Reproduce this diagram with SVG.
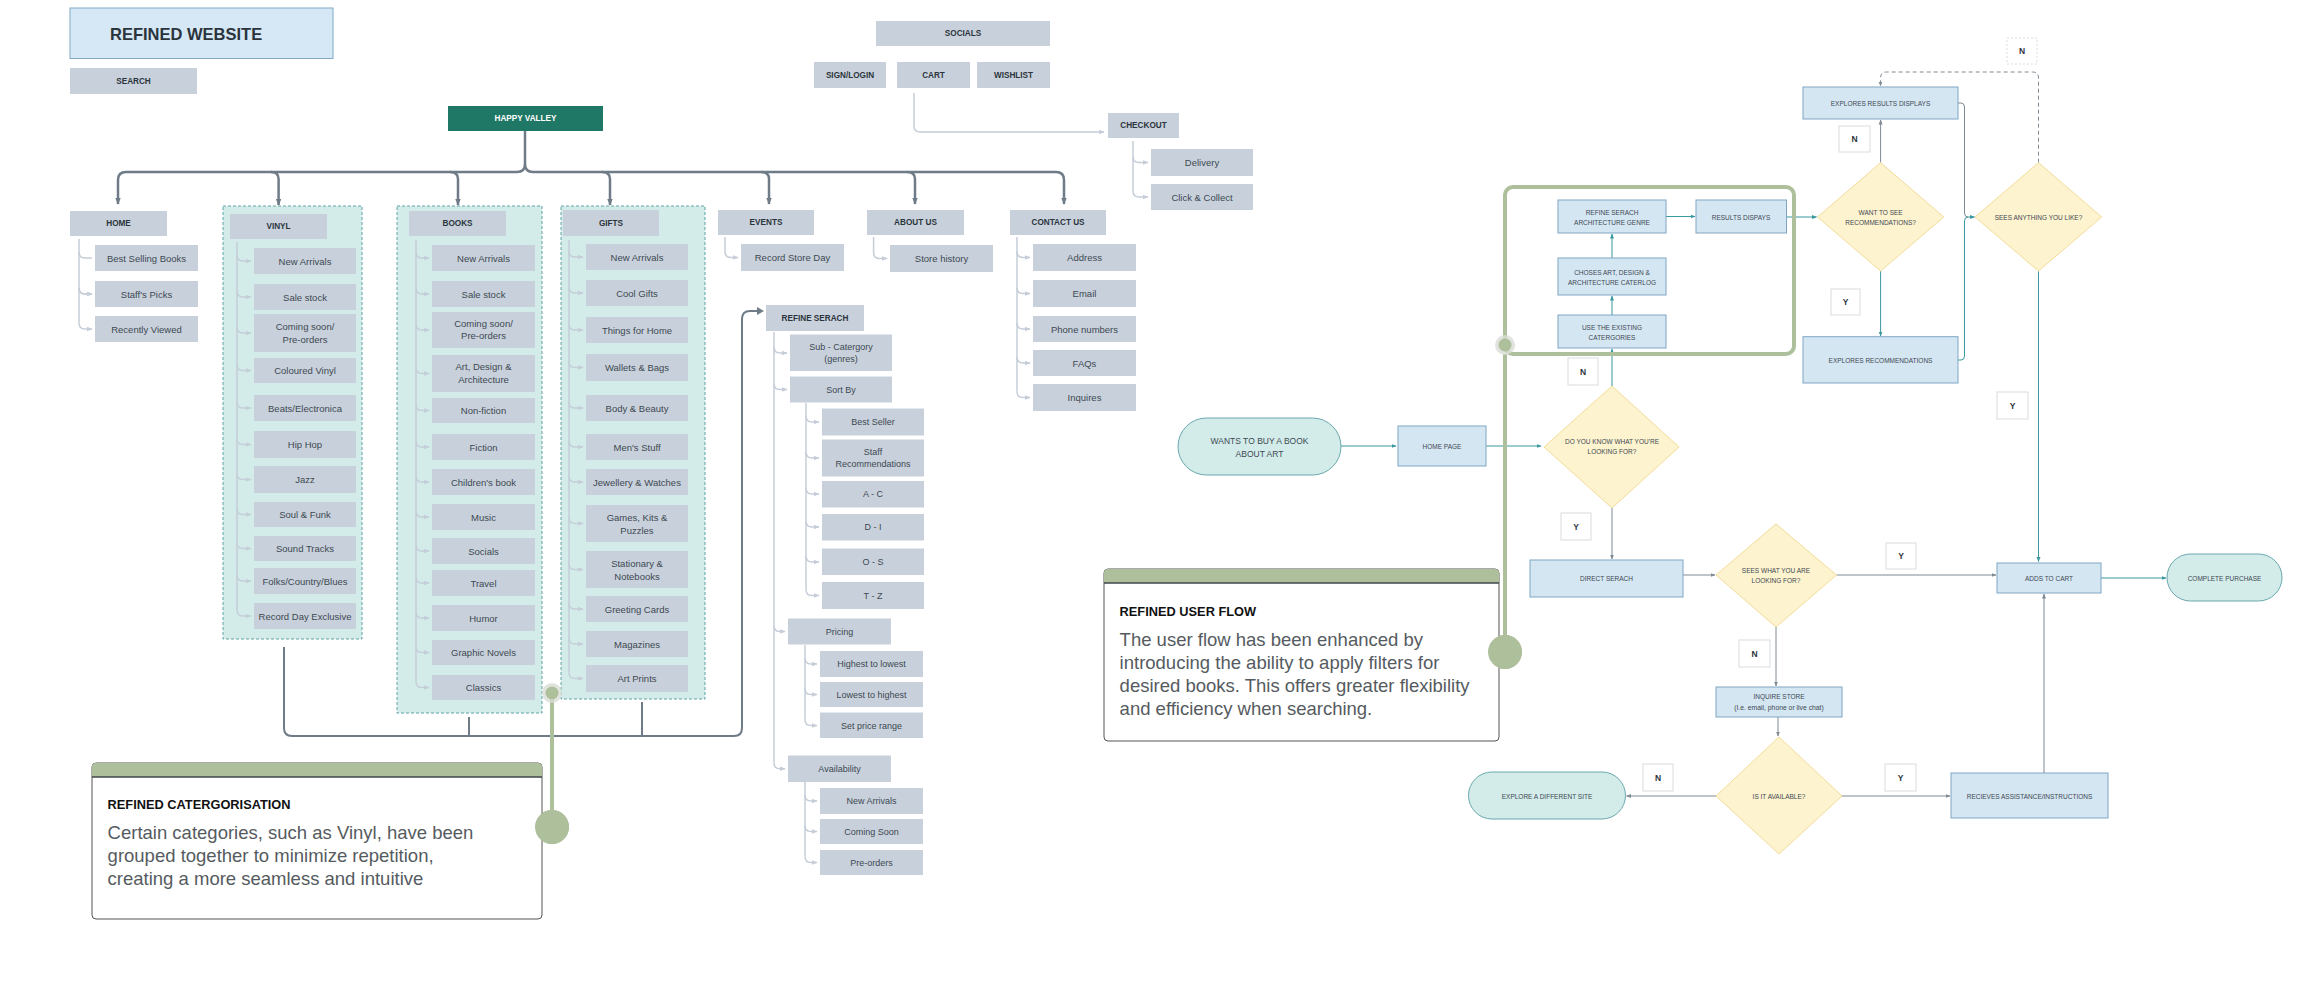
<svg xmlns="http://www.w3.org/2000/svg" width="2308" height="984" viewBox="0 0 2308 984">
<defs>
<style>
text{font-family:"Liberation Sans",Arial,sans-serif}
.b{fill:#c8d1db}
.t{font-size:9.5px;fill:#3d4852;text-anchor:middle;dominant-baseline:central}
.s{font-size:9px}
.h{font-size:8.2px;font-weight:bold;fill:#2b343d;text-anchor:middle;dominant-baseline:central}
.c{fill:#d3ecea;stroke:#5fa3a5;stroke-width:1;stroke-dasharray:3 2}
.tr{fill:none;stroke:#c5ced8;stroke-width:1.5}
.br{fill:none;stroke:#c5ced8;stroke-width:1.5;marker-end:url(#ml)}
.bus{fill:none;stroke:#6f7c87;stroke-width:2.5;marker-end:url(#mb)}
.bk{fill:none;stroke:#6f7c87;stroke-width:2}
.p{fill:#d5e6f3;stroke:#7ea6c4;stroke-width:1}
.d{fill:#fdf3cf;stroke:#f3dc98;stroke-width:1}
.pl{fill:#d3ecea;stroke:#6aa8ad;stroke-width:1}
.f{font-size:6.5px;fill:#3d4852;text-anchor:middle;dominant-baseline:central}
.lb{fill:#fff;stroke:#d8dcdf;stroke-width:1}
.lt{font-size:8.5px;font-weight:bold;fill:#2b343d;text-anchor:middle;dominant-baseline:central}
.te{fill:none;stroke:#3a98a0;stroke-width:1;marker-end:url(#mt)}
.gr{fill:none;stroke:#7f8a93;stroke-width:1;marker-end:url(#mg)}
.gn{fill:none;stroke:#aebf9c;stroke-width:4}
.ct{font-size:18.5px;fill:#555b60}
.cT{font-size:12.8px;font-weight:bold;fill:#111}
</style>
<marker id="mb" viewBox="0 0 10 10" refX="9" refY="5" markerWidth="7" markerHeight="7" markerUnits="userSpaceOnUse" orient="auto"><path d="M0,1 L10,5 L0,9 z" fill="#6f7c87"/></marker>
<marker id="ml" viewBox="0 0 10 10" refX="9" refY="5" markerWidth="6" markerHeight="6" markerUnits="userSpaceOnUse" orient="auto"><path d="M0,1 L10,5 L0,9 z" fill="#c5ced8"/></marker>
<marker id="mt" viewBox="0 0 10 10" refX="9" refY="5" markerWidth="5" markerHeight="5" markerUnits="userSpaceOnUse" orient="auto"><path d="M0,1 L10,5 L0,9 z" fill="#3a98a0"/></marker>
<marker id="mg" viewBox="0 0 10 10" refX="9" refY="5" markerWidth="5" markerHeight="5" markerUnits="userSpaceOnUse" orient="auto"><path d="M0,1 L10,5 L0,9 z" fill="#7f8a93"/></marker>
</defs>
<rect width="2308" height="984" fill="#fff"/>

<!-- containers -->
<g id="containers">
<rect class="c" x="223" y="206" width="139" height="433"/>
<rect class="c" x="397" y="206" width="145" height="507"/>
<rect class="c" x="561" y="206" width="144" height="493"/>
</g>

<!-- connectors -->
<g id="connectors">
<path class="bus" d="M525,131 V164 Q525,172 517,172 H126 Q118,172 118,180 V204"/>
<path class="bus" d="M525,164 Q525,172 533,172 H1056 Q1064,172 1064,180 V204"/>
<path class="bus" d="M271,172 Q278.6,172 278.6,179 V205"/>
<path class="bus" d="M450,172 Q458,172 458,179 V205"/>
<path class="bus" d="M602,172 Q610,172 610,179 V205"/>
<path class="bus" d="M761,172 Q769,172 769,179 V204"/>
<path class="bus" d="M907,172 Q915,172 915,179 V204"/>
<path class="bk" d="M284,647 V728 Q284,736 292,736 H734 Q742,736 742,728 V319 Q742,311 750,311 H758"/>
<path d="M757,307 L764,311 L757,315 z" fill="#6f7c87"/>
<path class="bk" d="M469,717 V736 M642,702 V736"/>
<path class="br" d="M914,93 V126 Q914,132 920,132 H1104"/>
<!-- home -->
<path class="tr" d="M79,239 V323"/>
<path class="br" d="M79,252 Q79,258 85,258 H92 M79,288 Q79,294 85,294 H92"/>
<path class="br" d="M79,288 Q79,294 85,294 H92"/>
<path class="br" d="M79,323 Q79,329 85,329 H92"/>
<!-- vinyl -->
<path class="tr" d="M237,242 V610"/>
<path class="br" d="M237,255 Q237,261 243,261 H251"/>
<path class="br" d="M237,291 Q237,297 243,297 H251"/>
<path class="br" d="M237,327 Q237,333 243,333 H251"/>
<path class="br" d="M237,364.5 Q237,370.5 243,370.5 H251"/>
<path class="br" d="M237,402 Q237,408 243,408 H251"/>
<path class="br" d="M237,438.5 Q237,444.5 243,444.5 H251"/>
<path class="br" d="M237,473.5 Q237,479.5 243,479.5 H251"/>
<path class="br" d="M237,508.5 Q237,514.5 243,514.5 H251"/>
<path class="br" d="M237,542.5 Q237,548.5 243,548.5 H251"/>
<path class="br" d="M237,575 Q237,581 243,581 H251"/>
<path class="br" d="M237,610 Q237,616 243,616 H251"/>
<!-- books -->
<path class="tr" d="M416,240 V681.5"/>
<path class="br" d="M416,252 Q416,258 422,258 H429"/>
<path class="br" d="M416,288 Q416,294 422,294 H429"/>
<path class="br" d="M416,324 Q416,330 422,330 H429"/>
<path class="br" d="M416,367.5 Q416,373.5 422,373.5 H429"/>
<path class="br" d="M416,404.5 Q416,410.5 422,410.5 H429"/>
<path class="br" d="M416,441 Q416,447 422,447 H429"/>
<path class="br" d="M416,476 Q416,482 422,482 H429"/>
<path class="br" d="M416,511 Q416,517 422,517 H429"/>
<path class="br" d="M416,545 Q416,551 422,551 H429"/>
<path class="br" d="M416,577 Q416,583 422,583 H429"/>
<path class="br" d="M416,612 Q416,618 422,618 H429"/>
<path class="br" d="M416,646.5 Q416,652.5 422,652.5 H429"/>
<path class="br" d="M416,681.5 Q416,687.5 422,687.5 H429"/>
<!-- gifts -->
<path class="tr" d="M569,240 V672.5"/>
<path class="br" d="M569,251 Q569,257 575,257 H583"/>
<path class="br" d="M569,287 Q569,293 575,293 H583"/>
<path class="br" d="M569,324 Q569,330 575,330 H583"/>
<path class="br" d="M569,361.5 Q569,367.5 575,367.5 H583"/>
<path class="br" d="M569,402 Q569,408 575,408 H583"/>
<path class="br" d="M569,441 Q569,447 575,447 H583"/>
<path class="br" d="M569,476 Q569,482 575,482 H583"/>
<path class="br" d="M569,517.5 Q569,523.5 575,523.5 H583"/>
<path class="br" d="M569,563.5 Q569,569.5 575,569.5 H583"/>
<path class="br" d="M569,603 Q569,609 575,609 H583"/>
<path class="br" d="M569,638 Q569,644 575,644 H583"/>
<path class="br" d="M569,672.5 Q569,678.5 575,678.5 H583"/>
<!-- events / about -->
<path class="br" d="M725,237 V251.5 Q725,257.5 731,257.5 H738"/>
<path class="br" d="M873.6,237 V252.5 Q873.6,258.5 879.6,258.5 H887"/>
<!-- contact -->
<path class="tr" d="M1017,237 V391.5"/>
<path class="br" d="M1017,251.5 Q1017,257.5 1023,257.5 H1030"/>
<path class="br" d="M1017,287.5 Q1017,293.5 1023,293.5 H1030"/>
<path class="br" d="M1017,323 Q1017,329 1023,329 H1030"/>
<path class="br" d="M1017,357 Q1017,363 1023,363 H1030"/>
<path class="br" d="M1017,391.5 Q1017,397.5 1023,397.5 H1030"/>
<!-- checkout -->
<path class="tr" d="M1133,141 V191"/>
<path class="br" d="M1133,156.5 Q1133,162.5 1139,162.5 H1148"/>
<path class="br" d="M1133,191 Q1133,197 1139,197 H1148"/>
<!-- refine -->
<path class="tr" d="M774,332 V762.7"/>
<path class="br" d="M774,347 Q774,353 780,353 H787"/>
<path class="br" d="M774,383.5 Q774,389.5 780,389.5 H787"/>
<path class="br" d="M774,625.5 Q774,631.5 780,631.5 H785"/>
<path class="br" d="M774,762.7 Q774,768.7 780,768.7 H785"/>
<path class="tr" d="M806,403 V589.5"/>
<path class="br" d="M806,416 Q806,422 812,422 H819"/>
<path class="br" d="M806,452 Q806,458 812,458 H819"/>
<path class="br" d="M806,488 Q806,494 812,494 H819"/>
<path class="br" d="M806,521 Q806,527 812,527 H819"/>
<path class="br" d="M806,556 Q806,562 812,562 H819"/>
<path class="br" d="M806,589.5 Q806,595.5 812,595.5 H819"/>
<path class="tr" d="M805,645 V719.5"/>
<path class="br" d="M805,658 Q805,664 811,664 H817"/>
<path class="br" d="M805,688.5 Q805,694.5 811,694.5 H817"/>
<path class="br" d="M805,719.5 Q805,725.5 811,725.5 H817"/>
<path class="tr" d="M805,782 V856.5"/>
<path class="br" d="M805,795 Q805,801 811,801 H817"/>
<path class="br" d="M805,825.5 Q805,831.5 811,831.5 H817"/>
<path class="br" d="M805,856.5 Q805,862.5 811,862.5 H817"/>

<!-- flowchart -->
<path class="te" d="M1341,446 H1396"/>
<path class="te" d="M1486,446 H1541"/>
<path class="te" d="M1612,386 V349"/>
<path class="te" d="M1612,315 V296"/>
<path class="te" d="M1612,258 V234"/>
<path class="te" d="M1666,216.5 H1695"/>
<path class="te" d="M1786.5,217 H1816.5"/>
<path class="te" d="M1880.6,271 V336"/>
<path class="gr" d="M1880.6,162.7 V120"/>
<path fill="none" stroke="#7f8a93" stroke-width="1" d="M1958,103 H1961 Q1964.5,103 1964.5,107 V213 Q1964.5,217 1968,217"/>
<path class="te" d="M1958,360 H1961 Q1964.5,360 1964.5,356 V221 Q1964.5,217 1968,217 H1974.5"/>
<path class="gr" stroke-dasharray="4 3" d="M2038.5,162.7 V78 Q2038.5,72 2032.5,72 H1886.5 Q1880.5,72 1880.5,78 V86"/>
<path class="te" d="M2038.5,271 V561.5"/>
<path class="te" d="M2101,578 H2166"/>
<path class="gr" d="M1612,508 V559"/>
<path class="gr" d="M1683,575 H1715"/>
<path class="gr" d="M1836.5,575 H1996"/>
<path class="gr" d="M1776,627 V686"/>
<path class="gr" d="M1778,717 V736"/>
<path class="gr" d="M1716,796 H1626.5"/>
<path class="gr" d="M1842,796 H1950"/>
<path class="gr" d="M2044,773 V594"/>
</g>

<!-- callout green lines -->
<g id="callout-links">
<path class="gn" d="M552,693 V827"/>
<circle cx="552" cy="693" r="10" fill="#d9ddd6" opacity="0.8"/>
<circle cx="552" cy="693" r="6.5" fill="#aebf9c"/>
<circle cx="552" cy="827" r="17" fill="#aebf9c"/>
<rect class="gn" x="1505" y="187" width="289" height="167" rx="8"/>
<path class="gn" d="M1505,354 V652"/>
<circle cx="1505" cy="345" r="10" fill="#d9ddd6" opacity="0.8"/>
<circle cx="1505" cy="345" r="6.5" fill="#aebf9c"/>
<circle cx="1505" cy="652" r="17" fill="#aebf9c"/>
</g>

<!-- top -->
<g id="title"><rect x="70" y="8" width="263" height="50.5" fill="#d6e8f5" stroke="#7fa9c4" stroke-width="1"/><text x="110" y="40" font-size="16.5" font-weight="bold" fill="#2b343d">REFINED WEBSITE</text></g>
<g id="search"><rect class="b" x="70" y="68" width="127" height="26"/><text class="h" x="133.5" y="81">SEARCH</text></g>
<g id="happy-valley"><rect x="448" y="106" width="155" height="25" fill="#1f7866"/><text class="h" x="525.5" y="118.5" fill="#fff" style="fill:#fff">HAPPY VALLEY</text></g>
<g id="socials"><rect class="b" x="876" y="21" width="174" height="25"/><text class="h" x="963" y="33.5">SOCIALS</text></g>
<g id="signlogin"><rect class="b" x="814" y="62" width="72" height="26"/><text class="h" x="850" y="75">SIGN/LOGIN</text></g>
<g id="cart"><rect class="b" x="897" y="62" width="73" height="26"/><text class="h" x="933.5" y="75">CART</text></g>
<g id="wishlist"><rect class="b" x="977" y="62" width="73" height="26"/><text class="h" x="1013.5" y="75">WISHLIST</text></g>
<g id="checkout"><rect class="b" x="1108" y="113" width="71" height="25"/><text class="h" x="1143.5" y="125.5">CHECKOUT</text>
<rect class="b" x="1151" y="149" width="102" height="27"/><text class="t" x="1202" y="162.5">Delivery</text>
<rect class="b" x="1151" y="184" width="102" height="26"/><text class="t" x="1202" y="197">Click &amp; Collect</text></g>

<!-- home -->
<g id="home"><rect class="b" x="70" y="211" width="97" height="25"/><text class="h" x="118.5" y="223.5">HOME</text>
<rect class="b" x="95" y="245" width="103" height="26"/><text class="t" x="146.5" y="258">Best Selling Books</text>
<rect class="b" x="95" y="281" width="103" height="26"/><text class="t" x="146.5" y="294">Staff's Picks</text>
<rect class="b" x="95" y="316" width="103" height="26"/><text class="t" x="146.5" y="329">Recently Viewed</text></g>

<!-- vinyl -->
<g id="vinyl"><rect class="b" x="230" y="214" width="97" height="25"/><text class="h" x="278.5" y="226.5">VINYL</text>
<rect class="b" x="254" y="248" width="102" height="26"/><text class="t" x="305" y="261">New Arrivals</text>
<rect class="b" x="254" y="284" width="102" height="26"/><text class="t" x="305" y="297">Sale stock</text>
<rect class="b" x="254" y="314" width="102" height="38"/><text class="t" x="305" y="326.7">Coming soon/</text><text class="t" x="305" y="339">Pre-orders</text>
<rect class="b" x="254" y="358" width="102" height="25"/><text class="t" x="305" y="370.5">Coloured Vinyl</text>
<rect class="b" x="254" y="395" width="102" height="26"/><text class="t" x="305" y="408">Beats/Electronica</text>
<rect class="b" x="254" y="431" width="102" height="27"/><text class="t" x="305" y="444.5">Hip Hop</text>
<rect class="b" x="254" y="466" width="102" height="27"/><text class="t" x="305" y="479.5">Jazz</text>
<rect class="b" x="254" y="502" width="102" height="25"/><text class="t" x="305" y="514.5">Soul &amp; Funk</text>
<rect class="b" x="254" y="536" width="102" height="25"/><text class="t" x="305" y="548.5">Sound Tracks</text>
<rect class="b" x="254" y="568" width="102" height="26"/><text class="t" x="305" y="581">Folks/Country/Blues</text>
<rect class="b" x="254" y="603" width="102" height="26"/><text class="t" x="305" y="616">Record Day Exclusive</text></g>

<!-- books -->
<g id="books"><rect class="b" x="409" y="211" width="97" height="25"/><text class="h" x="457.5" y="223.5">BOOKS</text>
<rect class="b" x="432" y="245" width="103" height="26"/><text class="t" x="483.5" y="258">New Arrivals</text>
<rect class="b" x="432" y="281" width="103" height="26"/><text class="t" x="483.5" y="294">Sale stock</text>
<rect class="b" x="432" y="312" width="103" height="36"/><text class="t" x="483.5" y="323.3">Coming soon/</text><text class="t" x="483.5" y="335.7">Pre-orders</text>
<rect class="b" x="432" y="355" width="103" height="37"/><text class="t" x="483.5" y="366.7">Art, Design &amp;</text><text class="t" x="483.5" y="379">Architecture</text>
<rect class="b" x="432" y="398" width="103" height="25"/><text class="t" x="483.5" y="410.5">Non-fiction</text>
<rect class="b" x="432" y="434" width="103" height="26"/><text class="t" x="483.5" y="447">Fiction</text>
<rect class="b" x="432" y="469" width="103" height="26"/><text class="t" x="483.5" y="482">Children's book</text>
<rect class="b" x="432" y="504" width="103" height="26"/><text class="t" x="483.5" y="517">Music</text>
<rect class="b" x="432" y="538" width="103" height="26"/><text class="t" x="483.5" y="551">Socials</text>
<rect class="b" x="432" y="570" width="103" height="26"/><text class="t" x="483.5" y="583">Travel</text>
<rect class="b" x="432" y="605" width="103" height="26"/><text class="t" x="483.5" y="618">Humor</text>
<rect class="b" x="432" y="640" width="103" height="25"/><text class="t" x="483.5" y="652.5">Graphic Novels</text>
<rect class="b" x="432" y="675" width="103" height="25"/><text class="t" x="483.5" y="687.5">Classics</text></g>

<!-- gifts -->
<g id="gifts"><rect class="b" x="563" y="210" width="96" height="26"/><text class="h" x="611" y="223">GIFTS</text>
<rect class="b" x="586" y="244" width="102" height="26"/><text class="t" x="637" y="257">New Arrivals</text>
<rect class="b" x="586" y="280" width="102" height="26"/><text class="t" x="637" y="293">Cool Gifts</text>
<rect class="b" x="586" y="317" width="102" height="26"/><text class="t" x="637" y="330">Things for Home</text>
<rect class="b" x="586" y="354" width="102" height="27"/><text class="t" x="637" y="367.5">Wallets &amp; Bags</text>
<rect class="b" x="586" y="395" width="102" height="26"/><text class="t" x="637" y="408">Body &amp; Beauty</text>
<rect class="b" x="586" y="434" width="102" height="26"/><text class="t" x="637" y="447">Men's Stuff</text>
<rect class="b" x="586" y="469" width="102" height="26"/><text class="t" x="637" y="482">Jewellery &amp; Watches</text>
<rect class="b" x="586" y="505" width="102" height="37"/><text class="t" x="637" y="517.7">Games, Kits &amp;</text><text class="t" x="637" y="530">Puzzles</text>
<rect class="b" x="586" y="551" width="102" height="37"/><text class="t" x="637" y="563.7">Stationary &amp;</text><text class="t" x="637" y="576">Notebooks</text>
<rect class="b" x="586" y="596" width="102" height="26"/><text class="t" x="637" y="609">Greeting Cards</text>
<rect class="b" x="586" y="631" width="102" height="26"/><text class="t" x="637" y="644">Magazines</text>
<rect class="b" x="586" y="665" width="102" height="27"/><text class="t" x="637" y="678.5">Art Prints</text></g>

<!-- events / about / contact -->
<g id="events"><rect class="b" x="718" y="210" width="96" height="25"/><text class="h" x="766" y="222.5">EVENTS</text>
<rect class="b" x="741" y="244" width="103" height="27"/><text class="t" x="792.5" y="257.5">Record Store Day</text></g>
<g id="about"><rect class="b" x="867" y="210" width="97" height="25"/><text class="h" x="915.5" y="222.5">ABOUT US</text>
<rect class="b" x="890" y="245" width="103" height="27"/><text class="t" x="941.5" y="258.5">Store history</text></g>
<g id="contact"><rect class="b" x="1010" y="210" width="96" height="25"/><text class="h" x="1058" y="222.5">CONTACT US</text>
<rect class="b" x="1033" y="244" width="103" height="27"/><text class="t" x="1084.5" y="257.5">Address</text>
<rect class="b" x="1033" y="280" width="103" height="27"/><text class="t" x="1084.5" y="293.5">Email</text>
<rect class="b" x="1033" y="316" width="103" height="26"/><text class="t" x="1084.5" y="329">Phone numbers</text>
<rect class="b" x="1033" y="350" width="103" height="26"/><text class="t" x="1084.5" y="363">FAQs</text>
<rect class="b" x="1033" y="384" width="103" height="27"/><text class="t" x="1084.5" y="397.5">Inquires</text></g>

<!-- refine search -->
<g id="refine"><rect class="b" x="766" y="305" width="98" height="26"/><text class="h" x="815" y="318">REFINE SERACH</text>
<rect class="b" x="790" y="334.5" width="102" height="36.5"/><text class="t s" x="841" y="347">Sub - Catergory</text><text class="t s" x="841" y="359">(genres)</text>
<rect class="b" x="790" y="376.5" width="102" height="26"/><text class="t s" x="841" y="389.5">Sort By</text>
<rect class="b" x="822" y="408.5" width="102" height="27"/><text class="t s" x="873" y="422">Best Seller</text>
<rect class="b" x="822" y="439.5" width="102" height="37"/><text class="t s" x="873" y="451.6">Staff</text><text class="t s" x="873" y="464">Recommendations</text>
<rect class="b" x="822" y="481" width="102" height="26.5"/><text class="t s" x="873" y="494">A - C</text>
<rect class="b" x="822" y="514" width="102" height="26.5"/><text class="t s" x="873" y="527">D - I</text>
<rect class="b" x="822" y="548.5" width="102" height="26.5"/><text class="t s" x="873" y="562">O - S</text>
<rect class="b" x="822" y="582" width="102" height="27"/><text class="t s" x="873" y="595.5">T - Z</text>
<rect class="b" x="788" y="618.5" width="103" height="26"/><text class="t s" x="839.5" y="631.5">Pricing</text>
<rect class="b" x="820" y="651" width="103" height="26"/><text class="t s" x="871.5" y="664">Highest to lowest</text>
<rect class="b" x="820" y="682" width="103" height="25"/><text class="t s" x="871.5" y="694.5">Lowest to highest</text>
<rect class="b" x="820" y="712.5" width="103" height="25.5"/><text class="t s" x="871.5" y="725.5">Set price range</text>
<rect class="b" x="788" y="755.5" width="103" height="26.5"/><text class="t s" x="839.5" y="768.7">Availability</text>
<rect class="b" x="820" y="788" width="103" height="26"/><text class="t s" x="871.5" y="801">New Arrivals</text>
<rect class="b" x="820" y="819" width="103" height="25"/><text class="t s" x="871.5" y="831.5">Coming Soon</text>
<rect class="b" x="820" y="850" width="103" height="25"/><text class="t s" x="871.5" y="862.5">Pre-orders</text></g>

<!-- callout 1 -->
<g id="callout-categorisation">
<rect x="92" y="763" width="450" height="156" rx="4" fill="#fff" stroke="#555" stroke-width="1"/>
<path d="M92,777 V767 Q92,763 96,763 H538 Q542,763 542,767 V777 z" fill="#aebf9c"/>
<path d="M92,777 H542" stroke="#3f464c" stroke-width="1.5"/>
<text class="cT" x="107.6" y="809">REFINED CATERGORISATION</text>
<text class="ct" x="107.6" y="839">Certain categories, such as Vinyl, have been</text>
<text class="ct" x="107.6" y="861.5">grouped together to minimize repetition,</text>
<text class="ct" x="107.6" y="884.5">creating a more seamless and intuitive</text>
</g>

<!-- callout 2 -->
<g id="callout-userflow">
<rect x="1104" y="569" width="395" height="172" rx="4" fill="#fff" stroke="#555" stroke-width="1"/>
<path d="M1104,583 V573 Q1104,569 1108,569 H1495 Q1499,569 1499,573 V583 z" fill="#aebf9c"/>
<path d="M1104,583 H1499" stroke="#3f464c" stroke-width="1.5"/>
<text class="cT" x="1119.6" y="615.7">REFINED USER FLOW</text>
<text class="ct" x="1119.6" y="645.7">The user flow has been enhanced by</text>
<text class="ct" x="1119.6" y="669">introducing the ability to apply filters for</text>
<text class="ct" x="1119.6" y="692">desired books. This offers greater flexibility</text>
<text class="ct" x="1119.6" y="715">and efficiency when searching.</text>
</g>
<circle cx="552" cy="827" r="17" fill="#aebf9c"/>
<circle cx="1505" cy="652" r="17" fill="#aebf9c"/>

<!-- flow nodes -->
<g id="wants"><rect class="pl" x="1178" y="418" width="163" height="57" rx="28.5"/><text class="f" style="font-size:8.5px" x="1259.5" y="440.5">WANTS TO BUY A BOOK</text><text class="f" style="font-size:8.5px" x="1259.5" y="453.5">ABOUT ART</text></g>
<g id="homepage"><rect class="p" x="1398" y="426" width="88" height="40"/><text class="f" x="1442" y="446">HOME PAGE</text></g>
<g id="know"><polygon class="d" points="1612,386 1679,447 1612,508 1544,447"/><text class="f" x="1612" y="441.7">DO YOU KNOW WHAT YOU'RE</text><text class="f" x="1612" y="451.7">LOOKING FOR?</text></g>
<g id="use-existing"><rect class="p" x="1558" y="315" width="108" height="33"/><text class="f" x="1612" y="327">USE THE EXISTING</text><text class="f" x="1612" y="337">CATERGORIES</text></g>
<g id="choses"><rect class="p" x="1558" y="258" width="108" height="37"/><text class="f" x="1612" y="272">CHOSES ART, DESIGN &amp;</text><text class="f" x="1612" y="282">ARCHITECTURE CATERLOG</text></g>
<g id="refine-genre"><rect class="p" x="1558" y="200" width="108" height="33"/><text class="f" x="1612" y="212">REFINE SERACH</text><text class="f" x="1612" y="222">ARCHITECTURE GENRE</text></g>
<g id="results"><rect class="p" x="1696" y="200" width="90.5" height="33"/><text class="f" x="1741" y="217">RESULTS DISPAYS</text></g>
<g id="want-recs"><polygon class="d" points="1880.6,162.7 1943.8,217 1880.6,271 1817.5,217"/><text class="f" x="1880.6" y="212">WANT TO SEE</text><text class="f" x="1880.6" y="222">RECOMMENDATIONS?</text></g>
<g id="explores-results"><rect class="p" x="1803" y="87" width="155" height="32"/><text class="f" x="1880.5" y="103">EXPLORES RESULTS DISPLAYS</text></g>
<g id="explores-recs"><rect class="p" x="1803" y="336.7" width="155" height="46.3"/><text class="f" x="1880.5" y="360">EXPLORES RECOMMENDATIONS</text></g>
<g id="sees-anything"><polygon class="d" points="2038.5,162.7 2101.7,217 2038.5,271 1975,217"/><text class="f" x="2038.5" y="217">SEES ANYTHING YOU LIKE?</text></g>
<g id="direct"><rect class="p" x="1530" y="560" width="153" height="37"/><text class="f" x="1606.5" y="578.5">DIRECT SERACH</text></g>
<g id="sees-what"><polygon class="d" points="1776,524 1836.5,575 1776,627 1716,575"/><text class="f" x="1776" y="570.7">SEES WHAT YOU ARE</text><text class="f" x="1776" y="580.7">LOOKING FOR?</text></g>
<g id="adds"><rect class="p" x="1997" y="563" width="104" height="30"/><text class="f" x="2049" y="578">ADDS TO CART</text></g>
<g id="complete"><rect class="pl" x="2167" y="554" width="115" height="47" rx="23.5"/><text class="f" x="2224.5" y="578">COMPLETE PURCHASE</text></g>
<g id="inquire"><rect class="p" x="1716" y="687" width="126" height="30"/><text class="f" x="1779" y="696.7">INQUIRE STORE</text><text class="f" style="font-size:6.8px" x="1779" y="707.5">(I.e. email, phone or live chat)</text></g>
<g id="available"><polygon class="d" points="1779,737 1842,796 1779,854 1716,796"/><text class="f" x="1779" y="796">IS IT AVAILABLE?</text></g>
<g id="explore-diff"><rect class="pl" x="1468.5" y="772" width="157" height="47" rx="23.5"/><text class="f" x="1547" y="796">EXPLORE A DIFFERENT SITE</text></g>
<g id="recieves"><rect class="p" x="1951" y="773" width="157" height="45"/><text class="f" x="2029.5" y="796">RECIEVES ASSISTANCE/INSTRUCTIONS</text></g>

<!-- labels -->
<g id="labels">
<rect class="lb" x="2007" y="38" width="30" height="26" stroke-dasharray="2 2"/><text class="lt" x="2022" y="51">N</text>
<rect class="lb" x="1839" y="126" width="31" height="26"/><text class="lt" x="1854.5" y="139">N</text>
<rect class="lb" x="1831" y="289" width="29" height="26"/><text class="lt" x="1845.5" y="302">Y</text>
<rect class="lb" x="1997" y="392" width="31" height="27"/><text class="lt" x="2012.5" y="405.5">Y</text>
<rect class="lb" x="1568" y="358" width="30" height="27"/><text class="lt" x="1583" y="371.5">N</text>
<rect class="lb" x="1561" y="513" width="30" height="27"/><text class="lt" x="1576" y="526.5">Y</text>
<rect class="lb" x="1886" y="543" width="30" height="26"/><text class="lt" x="1901" y="556">Y</text>
<rect class="lb" x="1739" y="640" width="31" height="27"/><text class="lt" x="1754.5" y="653.5">N</text>
<rect class="lb" x="1643" y="764" width="30" height="27"/><text class="lt" x="1658" y="777.5">N</text>
<rect class="lb" x="1885" y="764" width="31" height="27"/><text class="lt" x="1900.5" y="777.5">Y</text>
</g>
</svg>
